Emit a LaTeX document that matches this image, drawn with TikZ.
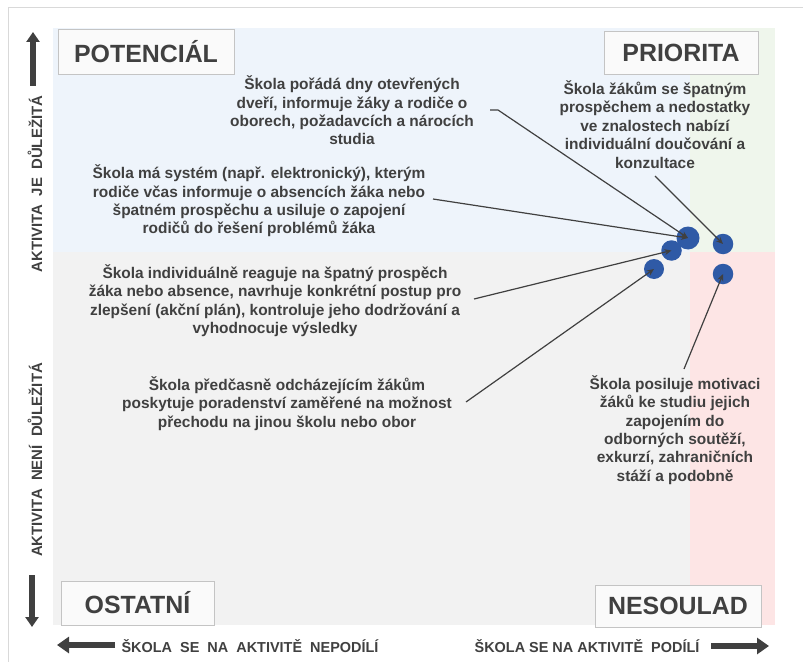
\documentclass[tikz,border=0pt]{standalone}
\usepackage{fontspec}
\setmainfont{Liberation Sans}
\usetikzlibrary{arrows.meta}
\definecolor{txt}{HTML}{404040}
\definecolor{qblue}{HTML}{EEF4FB}
\definecolor{qgreen}{HTML}{EFF6EC}
\definecolor{qgray}{HTML}{F2F2F2}
\definecolor{qpink}{HTML}{FDE5E5}
\definecolor{frame}{HTML}{D9D9D9}
\definecolor{boxline}{HTML}{C4C4C4}
\definecolor{boxfill}{HTML}{FAFAFA}
\definecolor{dotblue}{HTML}{2F5AA6}
\tikzset{
  desc/.style={align=center, font=\fontsize{15.5}{18.5}\selectfont\bfseries, text=txt, inner sep=0pt},
  qbox/.style={draw=boxline, fill=boxfill, line width=0.9bp, font=\fontsize{25}{30}\selectfont\bfseries, text=txt, inner sep=0pt},
  axislab/.style={font=\fontsize{14.5}{17}\selectfont\bfseries, text=txt, inner sep=0pt},
  vaxislab/.style={font=\fontsize{15}{17}\selectfont\bfseries, text=txt, inner sep=0pt, rotate=90},
  dotnode/.style={circle, fill=dotblue, inner sep=0pt},
  conn/.style={draw=txt, line width=1.2bp, -{Stealth[length=7bp,width=6bp]}},
  bigarrowv/.style={draw=txt, line width=5.3bp, -{Triangle[length=10bp,width=13bp]}},
  bigarrowh/.style={draw=txt, line width=6.5bp, -{Triangle[length=12bp,width=16bp]}}
}
\begin{document}
\begin{tikzpicture}[x=1bp,y=-1bp]
\useasboundingbox (0,0) rectangle (803,662);
\fill[white] (0,0) rectangle (803,662);
% frame
\draw[frame, line width=1bp] (8,662) -- (8,8) -- (803,8);
% quadrants
\fill[qblue] (53,28) rectangle (690,252);
\fill[qgreen] (690,28) rectangle (775,252);
\fill[qgray] (53,252) rectangle (690,625);
\fill[qpink] (690,252) rectangle (775,625);
% quadrant labels
\node[qbox, minimum width=176bp, minimum height=45bp] (potencial) at (146,51.5) {POTENCIÁL};
\node[qbox, minimum width=154bp, minimum height=43bp] (priorita) at (681,52.5) {PRIORITA};
\node[qbox, minimum width=153bp, minimum height=44bp] (ostatni) at (137.5,603) {OSTATNÍ};
\node[qbox, minimum width=166bp, minimum height=42bp] (nesoulad) at (678,606) {NESOULAD};
% axis arrows
\coordinate (upS) at (33,86);
\coordinate (upE) at (33,32);
\coordinate (dnS) at (32,575);
\coordinate (dnE) at (32,627);
\coordinate (lfS) at (115,645);
\coordinate (lfE) at (57,645);
\coordinate (rtS) at (711,646);
\coordinate (rtE) at (769,646);
\draw[bigarrowv] (upS) -- (upE);
\draw[bigarrowv] (dnS) -- (dnE);
\draw[bigarrowh] (lfS) -- (lfE);
\draw[bigarrowh] (rtS) -- (rtE);
% axis labels
\node[vaxislab] (yhi) at (35,184) {AKTIVITA\ \ JE\ \ DŮLEŽITÁ};
\node[vaxislab] (ylo) at (35,460) {AKTIVITA\ \ NENÍ\ \ DŮLEŽITÁ};
\node[axislab] (xlo) at (250,646) {ŠKOLA\ \ SE\ \ NA\ \ AKTIVITĚ\ \ NEPODÍLÍ};
\node[axislab] (xhi) at (587,646) {ŠKOLA SE NA AKTIVITĚ\ \ PODÍLÍ};
% descriptions
\node[desc] (t1) at (352,110.5) {Škola pořádá dny otevřených\\dveří, informuje žáky a rodiče o\\oborech, požadavcích a nárocích\\studia};
\node[desc] (t2) at (259,201) {Škola má systém (např. elektronický), kterým\\rodiče včas informuje o absencích žáka nebo\\špatném prospěchu a usiluje o zapojení\\rodičů do řešení problémů žáka};
\node[desc] (t3) at (655,124.5) {Škola žákům se špatným\\prospěchem a nedostatky\\ve znalostech nabízí\\individuální doučování a\\konzultace};
\node[desc] (t4) at (275,300.5) {Škola individuálně reaguje na špatný prospěch\\žáka nebo absence, navrhuje konkrétní postup pro\\zlepšení (akční plán), kontroluje jeho dodržování a\\vyhodnocuje výsledky};
\node[desc] (t5) at (287,403.5) {Škola předčasně odcházejícím žákům\\poskytuje poradenství zaměřené na možnost\\přechodu na jinou školu nebo obor};
\node[desc] (t6) at (675,430) {Škola posiluje motivaci\\žáků ke studiu jejich\\zapojením do\\odborných soutěží,\\exkurzí, zahraničních\\stáží a podobně};
% dots
\node[dotnode, minimum size=23bp] (dA) at (688,238) {};
\node[dotnode, minimum size=20.5bp] (dB) at (671.5,250.5) {};
\node[dotnode, minimum size=20bp] (dC) at (654,269) {};
\node[dotnode, minimum size=20.5bp] (dD) at (723,244) {};
\node[dotnode, minimum size=20.5bp] (dE) at (723,274) {};
% connectors
\coordinate (s1) at (490,110);
\coordinate (s1b) at (498,110);
\coordinate (s2) at (433,199);
\coordinate (s3) at (655,176);
\coordinate (s4) at (474,299);
\coordinate (s5) at (466,402);
\coordinate (s6) at (684,369);
\draw[conn] (s1) -- (s1b) -- (dA.center);
\draw[conn] (s2) -- (dA.center);
\draw[conn] (s3) -- (dD.center);
\draw[conn] (s4) -- (dB.center);
\draw[conn] (s5) -- (dC.center);
\draw[conn] (s6) -- (dE.center);
\end{tikzpicture}
\end{document}
